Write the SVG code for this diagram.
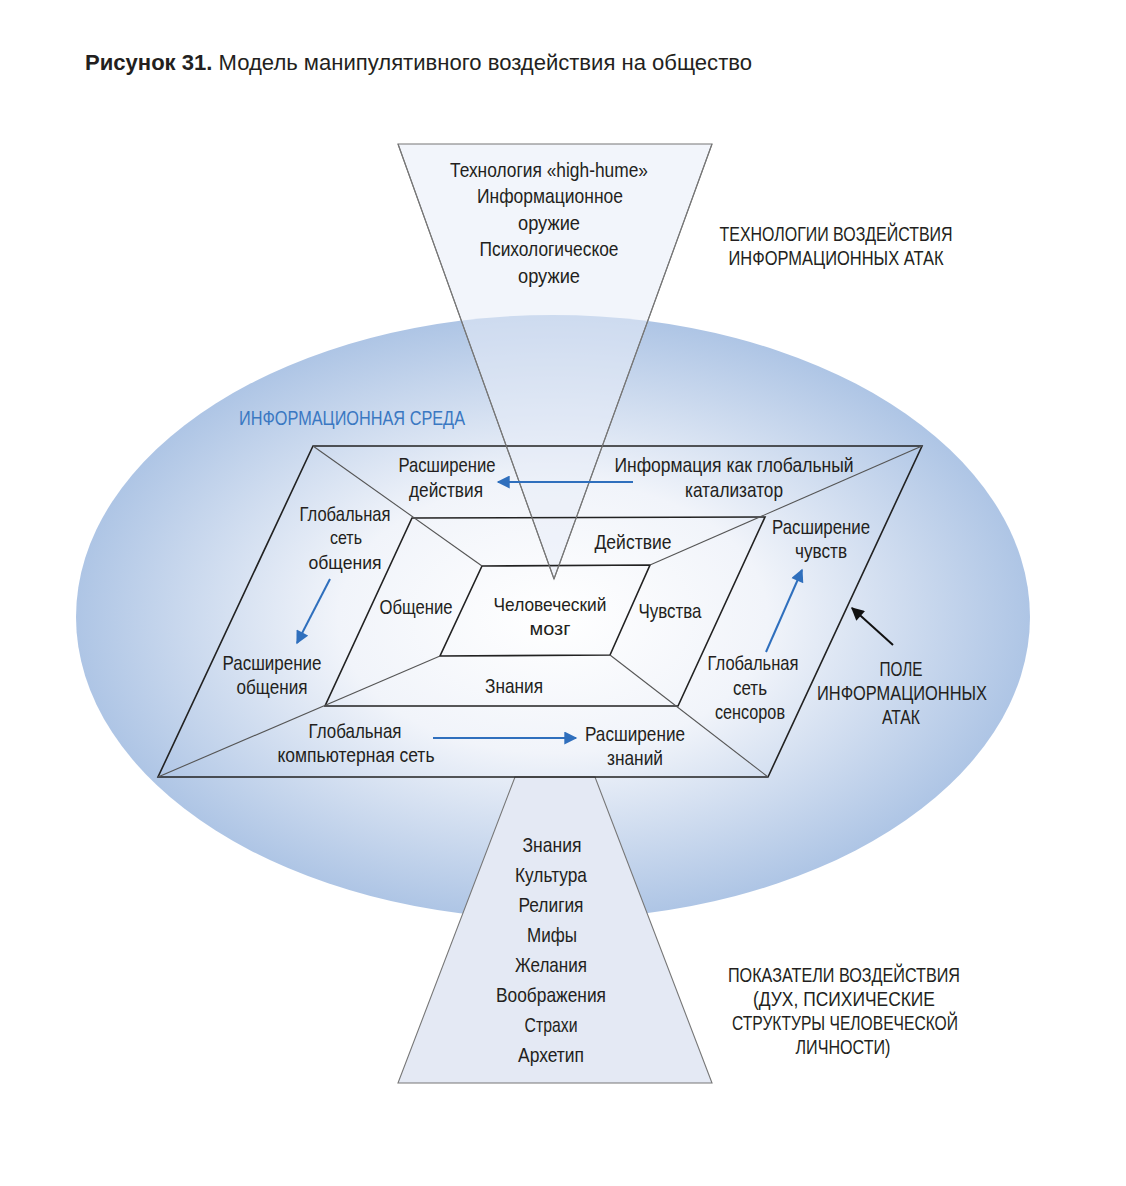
<svg xmlns="http://www.w3.org/2000/svg" width="1126" height="1186" viewBox="0 0 1126 1186">
<defs>
<radialGradient id="env" cx="0.5" cy="0.5" r="0.5">
<stop offset="0" stop-color="#ffffff"/>
<stop offset="0.45" stop-color="#f1f4fa"/>
<stop offset="1" stop-color="#aec5e5"/>
</radialGradient>
<marker id="ab" viewBox="0 0 10 10" refX="9" refY="5" markerWidth="15" markerHeight="13" orient="auto" markerUnits="userSpaceOnUse">
<path d="M0,0 L10,5 L0,10 z" fill="#2f6fbd"/>
</marker>
<marker id="ak" viewBox="0 0 10 10" refX="9" refY="5" markerWidth="15" markerHeight="13" orient="auto" markerUnits="userSpaceOnUse">
<path d="M0,0 L10,5 L0,10 z" fill="#111"/>
</marker>
<style>
text{font-family:"Liberation Sans",Arial,sans-serif;font-size:21px;fill:#231f20;text-anchor:middle}
.tight{font-size:19px}
.blue{fill:#3a78c2;text-anchor:start}
.edge{fill:none;stroke:#222;stroke-width:1.6}
.diag{fill:none;stroke:#555;stroke-width:1.1}
.tri{stroke:#777;stroke-width:1.1}
.barrow{stroke:#2f6fbd;stroke-width:2;fill:none}
</style>
</defs>
<rect width="1126" height="1186" fill="#ffffff"/>
<text x="85" y="70" style="text-anchor:start;font-size:22px" textLength="667" lengthAdjust="spacingAndGlyphs"><tspan font-weight="bold">Рисунок 31.</tspan> Модель манипулятивного воздействия на общество</text>

<g id="environment">
<ellipse cx="553" cy="617" rx="477" ry="302" fill="url(#env)"/>
<text class="blue" x="239" y="425" textLength="226" lengthAdjust="spacingAndGlyphs">ИНФОРМАЦИОННАЯ СРЕДА</text>
</g>

<g id="top-triangle">
<polygon points="398,144 712,144 554,579" fill="#e8edf7" fill-opacity="0.55"/>
<polygon points="398,144 712,144 554,579" fill="none" class="tri"/>
<text x="549" y="177" textLength="198" lengthAdjust="spacingAndGlyphs">Технология «high-hume»</text>
<text x="550" y="203" textLength="146" lengthAdjust="spacingAndGlyphs">Информационное</text>
<text x="549" y="230" textLength="62" lengthAdjust="spacingAndGlyphs">оружие</text>
<text x="549" y="256" textLength="139" lengthAdjust="spacingAndGlyphs">Психологическое</text>
<text x="549" y="283" textLength="62" lengthAdjust="spacingAndGlyphs">оружие</text>
</g>

<g id="bottom-triangle">
<polygon points="515,777 595,777 712,1083 398,1083" fill="#e4e9f4" class="tri"/>
<text x="552" y="852" textLength="59" lengthAdjust="spacingAndGlyphs">Знания</text>
<text x="551" y="882" textLength="72" lengthAdjust="spacingAndGlyphs">Культура</text>
<text x="551" y="912" textLength="65" lengthAdjust="spacingAndGlyphs">Религия</text>
<text x="552" y="942" textLength="50" lengthAdjust="spacingAndGlyphs">Мифы</text>
<text x="551" y="972" textLength="72" lengthAdjust="spacingAndGlyphs">Желания</text>
<text x="551" y="1002" textLength="110" lengthAdjust="spacingAndGlyphs">Воображения</text>
<text x="551" y="1032" textLength="53" lengthAdjust="spacingAndGlyphs">Страхи</text>
<text x="551" y="1062" textLength="66" lengthAdjust="spacingAndGlyphs">Архетип</text>
</g>

<g id="outer-field">
<polygon points="313,446 922,446 768,777 158,777" fill="#e3e8f3" class="edge"/>
</g>
<g id="middle-field">
<polygon points="412,518 765,517 678,706 325,706" fill="#ebeef7" class="edge"/>
</g>
<g id="brain">
<polygon points="482,566 650,565 610,655 440,656" fill="#ffffff" class="edge"/>
</g>

<g id="connectors">
<line class="diag" x1="313" y1="446" x2="482" y2="566"/>
<line class="diag" x1="922" y1="446" x2="650" y2="565"/>
<line class="diag" x1="158" y1="777" x2="440" y2="656"/>
<line class="diag" x1="768" y1="777" x2="610" y2="655"/>
<line class="tri" x1="398" y1="144" x2="554" y2="579"/>
<line class="tri" x1="712" y1="144" x2="554" y2="579"/>
<line class="barrow" x1="633" y1="482" x2="498" y2="482" marker-end="url(#ab)"/>
<line class="barrow" x1="330" y1="579" x2="297" y2="643" marker-end="url(#ab)"/>
<line class="barrow" x1="766" y1="652" x2="802" y2="570" marker-end="url(#ab)"/>
<line class="barrow" x1="433" y1="738" x2="576" y2="738" marker-end="url(#ab)"/>
<line x1="893" y1="645" x2="852" y2="608" stroke="#111" stroke-width="2" marker-end="url(#ak)"/>
</g>

<g id="labels">
<text x="447" y="472" textLength="97" lengthAdjust="spacingAndGlyphs">Расширение</text>
<text x="446" y="497" textLength="74" lengthAdjust="spacingAndGlyphs">действия</text>
<text x="734" y="472" textLength="239" lengthAdjust="spacingAndGlyphs">Информация как глобальный</text>
<text x="734" y="497" textLength="98" lengthAdjust="spacingAndGlyphs">катализатор</text>
<text x="345" y="521" textLength="91" lengthAdjust="spacingAndGlyphs">Глобальная</text>
<text class="tight" x="346" y="544" textLength="32" lengthAdjust="spacingAndGlyphs">сеть</text>
<text class="tight" x="345" y="569" textLength="73" lengthAdjust="spacingAndGlyphs">общения</text>
<text x="272" y="670" textLength="99" lengthAdjust="spacingAndGlyphs">Расширение</text>
<text x="272" y="694" textLength="71" lengthAdjust="spacingAndGlyphs">общения</text>
<text x="633" y="549" textLength="77" lengthAdjust="spacingAndGlyphs">Действие</text>
<text x="416" y="614" textLength="73" lengthAdjust="spacingAndGlyphs">Общение</text>
<text class="tight" x="550" y="611" textLength="113" lengthAdjust="spacingAndGlyphs">Человеческий</text>
<text class="tight" x="550" y="635" textLength="41" lengthAdjust="spacingAndGlyphs">мозг</text>
<text x="670" y="618" textLength="63" lengthAdjust="spacingAndGlyphs">Чувства</text>
<text x="821" y="534" textLength="98" lengthAdjust="spacingAndGlyphs">Расширение</text>
<text x="821" y="558" textLength="52" lengthAdjust="spacingAndGlyphs">чувств</text>
<text x="753" y="670" textLength="91" lengthAdjust="spacingAndGlyphs">Глобальная</text>
<text x="750" y="695" textLength="34" lengthAdjust="spacingAndGlyphs">сеть</text>
<text x="750" y="719" textLength="70" lengthAdjust="spacingAndGlyphs">сенсоров</text>
<text x="514" y="693" textLength="58" lengthAdjust="spacingAndGlyphs">Знания</text>
<text x="355" y="738" textLength="93" lengthAdjust="spacingAndGlyphs">Глобальная</text>
<text x="356" y="762" textLength="157" lengthAdjust="spacingAndGlyphs">компьютерная сеть</text>
<text x="635" y="741" textLength="100" lengthAdjust="spacingAndGlyphs">Расширение</text>
<text x="635" y="765" textLength="56" lengthAdjust="spacingAndGlyphs">знаний</text>
</g>

<g id="captions">
<text x="836" y="241" textLength="233" lengthAdjust="spacingAndGlyphs">ТЕХНОЛОГИИ ВОЗДЕЙСТВИЯ</text>
<text x="836" y="265" textLength="215" lengthAdjust="spacingAndGlyphs">ИНФОРМАЦИОННЫХ АТАК</text>
<text x="901" y="676" textLength="43" lengthAdjust="spacingAndGlyphs">ПОЛЕ</text>
<text x="902" y="700" textLength="170" lengthAdjust="spacingAndGlyphs">ИНФОРМАЦИОННЫХ</text>
<text x="901" y="724" textLength="38" lengthAdjust="spacingAndGlyphs">АТАК</text>
<text x="844" y="982" textLength="232" lengthAdjust="spacingAndGlyphs">ПОКАЗАТЕЛИ ВОЗДЕЙСТВИЯ</text>
<text x="844" y="1006" textLength="182" lengthAdjust="spacingAndGlyphs">(ДУХ, ПСИХИЧЕСКИЕ</text>
<text x="845" y="1030" textLength="226" lengthAdjust="spacingAndGlyphs">СТРУКТУРЫ ЧЕЛОВЕЧЕСКОЙ</text>
<text x="843" y="1054" textLength="95" lengthAdjust="spacingAndGlyphs">ЛИЧНОСТИ)</text>
</g>
</svg>
